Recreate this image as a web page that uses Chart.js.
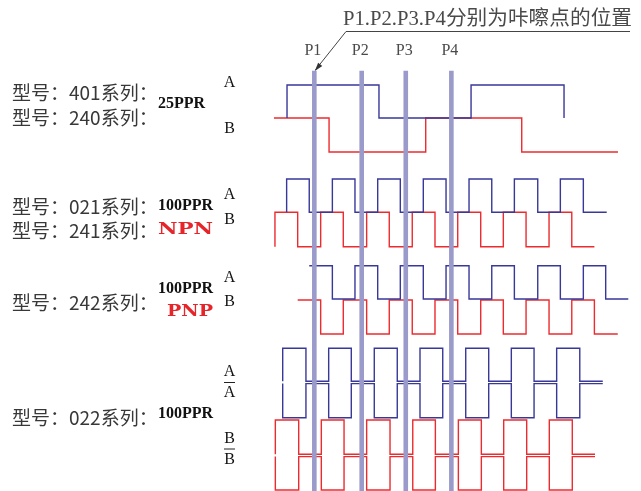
<!DOCTYPE html>
<html>
<head>
<meta charset="utf-8">
<script src="https://cdn.jsdelivr.net/npm/chart.js@4.4.0/dist/chart.umd.min.js"></script>
<style>
html,body{margin:0;padding:0;background:#fff;}
#wrap{width:641px;height:491px;position:relative;}
</style>
</head>
<body>
<div id="wrap"><canvas id="c" width="641" height="491" style="width:641px;height:491px"></canvas></div>
<script>
// x values: shaft position in mechanical degrees; levels toggle at each edge
const clickPoints = [3.49, 7.22, 10.69, 14.28];
const clickLabels = ['P1', 'P2', 'P3', 'P4'];

const ppr25_A_edges = [1.34, 8.58, 15.83, 23.15];
const ppr25_B_edges = [4.65, 12.26, 19.82];
const npn_A_edges = [1.31, 3.09, 4.91, 6.69, 8.48, 10.26, 12.07, 13.86, 15.67, 17.46, 19.24, 21.08, 22.86, 24.67];
const npn_B_edges = [0.39, 2.18, 3.99, 5.77, 7.61, 9.39, 11.20, 12.99, 14.78, 16.59, 18.37, 20.16, 21.97, 23.76];
const pnp_A_edges = [4.91, 6.69, 8.48, 10.26, 12.07, 13.86, 15.67, 17.46, 19.24, 21.08, 22.86, 24.67, 26.43];
const pnp_B_edges = [3.99, 5.77, 7.61, 9.39, 11.20, 12.99, 14.78, 16.59, 18.37, 20.16, 21.97, 23.76, 25.54];
const diff_A_edges = [1.00, 2.83, 4.62, 6.40, 8.21, 10.02, 11.81, 13.60, 15.41, 17.22, 19.00, 20.79, 22.57, 24.39];
const diff_B_edges = [0.42, 2.26, 4.04, 5.83, 7.61, 9.45, 11.24, 13.02, 14.83, 16.64, 18.40, 20.21, 21.99, 23.80];

// start / end of each trace and its initial logic level
const signalNames = ['25A', '25B', 'npnA', 'npnB', 'pnpA', 'pnpB', 'diffA', 'diffAn', 'diffB', 'diffBn'];
const signalStart = [1.34, 0.31, 1.31, 0.39, 3.09, 2.18, 1.00, 1.00, 0.42, 0.42];
const signalEnd   = [23.15, 27.40, 26.51, 25.54, 28.21, 27.38, 26.20, 26.20, 25.59, 25.59];
const signalInit  = [0, 1, 0, 0, 1, 1, 0, 1, 0, 1];
const signalEdges = [ppr25_A_edges, ppr25_B_edges, npn_A_edges, npn_B_edges, pnp_A_edges, pnp_B_edges, diff_A_edges, diff_A_edges, diff_B_edges, diff_B_edges];

// layout: vertical track rows (high row, low row) and colours
const trackHigh = [85, 118, 179, 212.3, 265.7, 300, 348.3, 383.6, 420, 456.6];
const trackLow  = [118, 152, 212.3, 246.7, 299, 334, 381.2, 417.7, 454.2, 490];
const BLUE = '#38389a', RED = '#ec2b2f', BAR = '#9a9acb';
const trackColor = [BLUE, RED, BLUE, RED, BLUE, RED, BLUE, BLUE, RED, RED];

function stepPoints(i) {
  let lvl = signalInit[i];
  const y = l => (l ? trackHigh[i] : trackLow[i]);
  const pts = [{x: signalStart[i], y: y(lvl)}];
  signalEdges[i].forEach(e => { lvl = 1 - lvl; pts.push({x: e, y: y(lvl)}); });
  pts.push({x: signalEnd[i], y: y(lvl)});
  return pts;
}

const datasets = [];
clickPoints.forEach((p, k) => {
  datasets.push({
    label: clickLabels[k], data: [{x: p, y: 70.7}, {x: p, y: 491}],
    borderColor: BAR, borderWidth: 4.6, pointRadius: 0, order: -1, clip: false
  });
});
signalNames.forEach((n, i) => {
  datasets.push({
    label: n, data: stepPoints(i), stepped: 'before',
    borderColor: trackColor[i], borderWidth: 1.4, pointRadius: 0, order: 1, clip: false,
    borderCapStyle: 'butt', borderJoinStyle: 'miter'
  });
});

const leftLabels = [
  ['型号：401系列：', 93], ['型号：240系列：', 118], ['型号：021系列：', 207],
  ['型号：241系列：', 231], ['型号：242系列：', 303], ['型号：022系列：', 418]
];
const pprLabels = [['25PPR', 104], ['100PPR', 206], ['100PPR', 289], ['100PPR', 414]];
const typeLabels = [['NPN', 158, 230, 55], ['PNP', 167, 312, 46]];
const chLabels = [['A', 83, 0], ['B', 129, 0], ['A', 195, 0], ['B', 220, 0], ['A', 278, 0], ['B', 302, 0],
  ['A', 371.5, 0], ['A', 393, 1], ['B', 438.5, 0], ['B', 459.5, 1]];
const titleText = 'P1.P2.P3.P4分别为咔嚓点的位置';

const textPlugin = {
  id: 'texts',
  afterDraw(chart) {
    const ctx = chart.ctx, xs = chart.scales.x;
    ctx.save();
    // title + leader arrow
    ctx.fillStyle = '#4a4a4a';
    ctx.font = '20px "Liberation Serif", "Noto Sans CJK SC"';
    ctx.textAlign = 'left'; ctx.textBaseline = 'alphabetic';
    const tw = ctx.measureText(titleText).width;
    ctx.save(); ctx.translate(343, 25); ctx.scale(289 / tw, 1); ctx.fillText(titleText, 0, 0); ctx.restore();
    ctx.strokeStyle = '#444'; ctx.lineWidth = 1;
    const tipX = xs.getPixelForValue(clickPoints[0]), tipY = 71;
    ctx.beginPath(); ctx.moveTo(630, 31.5); ctx.lineTo(346, 31.5); ctx.lineTo(tipX + 1, tipY - 1); ctx.stroke();
    const ang = Math.atan2(tipY - 31.5, tipX - 346);
    ctx.fillStyle = '#333';
    ctx.beginPath();
    ctx.moveTo(tipX + 0.5, tipY);
    ctx.lineTo(tipX + 0.5 - 9 * Math.cos(ang - 0.3), tipY - 9 * Math.sin(ang - 0.3));
    ctx.lineTo(tipX + 0.5 - 9 * Math.cos(ang + 0.3), tipY - 9 * Math.sin(ang + 0.3));
    ctx.closePath(); ctx.fill();
    // P labels
    ctx.fillStyle = '#4a4a4a';
    ctx.font = '16px "Liberation Serif"';
    ctx.textAlign = 'center';
    clickPoints.forEach((p, k) => ctx.fillText(clickLabels[k], xs.getPixelForValue(p) - 1.5, 55));
    // left labels
    ctx.textBaseline = 'middle'; ctx.textAlign = 'left';
    ctx.fillStyle = '#383838';
    ctx.font = '19px "Noto Sans CJK SC"';
    leftLabels.forEach(([t, y]) => ctx.fillText(t, 12, y));
    ctx.fillStyle = '#111';
    ctx.font = 'bold 16px "Liberation Serif"';
    pprLabels.forEach(([t, y]) => ctx.fillText(t, 158, y));
    ctx.fillStyle = '#e5252a';
    ctx.font = 'bold 17px "DejaVu Serif"';
    typeLabels.forEach(([t, x, y, w]) => {
      const m = ctx.measureText(t).width;
      ctx.save(); ctx.translate(x, y); ctx.scale(w / m, 1); ctx.fillText(t, 0, 0); ctx.restore();
    });
    ctx.fillStyle = '#111';
    ctx.font = '16px "Liberation Serif"';
    ctx.textAlign = 'center';
    ctx.strokeStyle = '#222'; ctx.lineWidth = 1;
    chLabels.forEach(([t, y, bar]) => {
      ctx.fillText(t, 229.5, y);
      if (bar) { ctx.beginPath(); ctx.moveTo(224, y - 10.5); ctx.lineTo(235, y - 10.5); ctx.stroke(); }
    });
    ctx.restore();
  }
};

new Chart(document.getElementById('c'), {
  type: 'line',
  data: {datasets},
  options: {
    responsive: false, animation: false, devicePixelRatio: 1,
    layout: {padding: {left: 270, right: 0, top: 0, bottom: 0}},
    scales: {
      x: {type: 'linear', min: 0, max: 29.21, display: false},
      y: {type: 'linear', min: 0, max: 491, reverse: true, display: false}
    },
    elements: {line: {tension: 0}},
    plugins: {legend: {display: false}, tooltip: {enabled: false}, title: {display: false}}
  },
  plugins: [textPlugin]
});
</script>
</body>
</html>
